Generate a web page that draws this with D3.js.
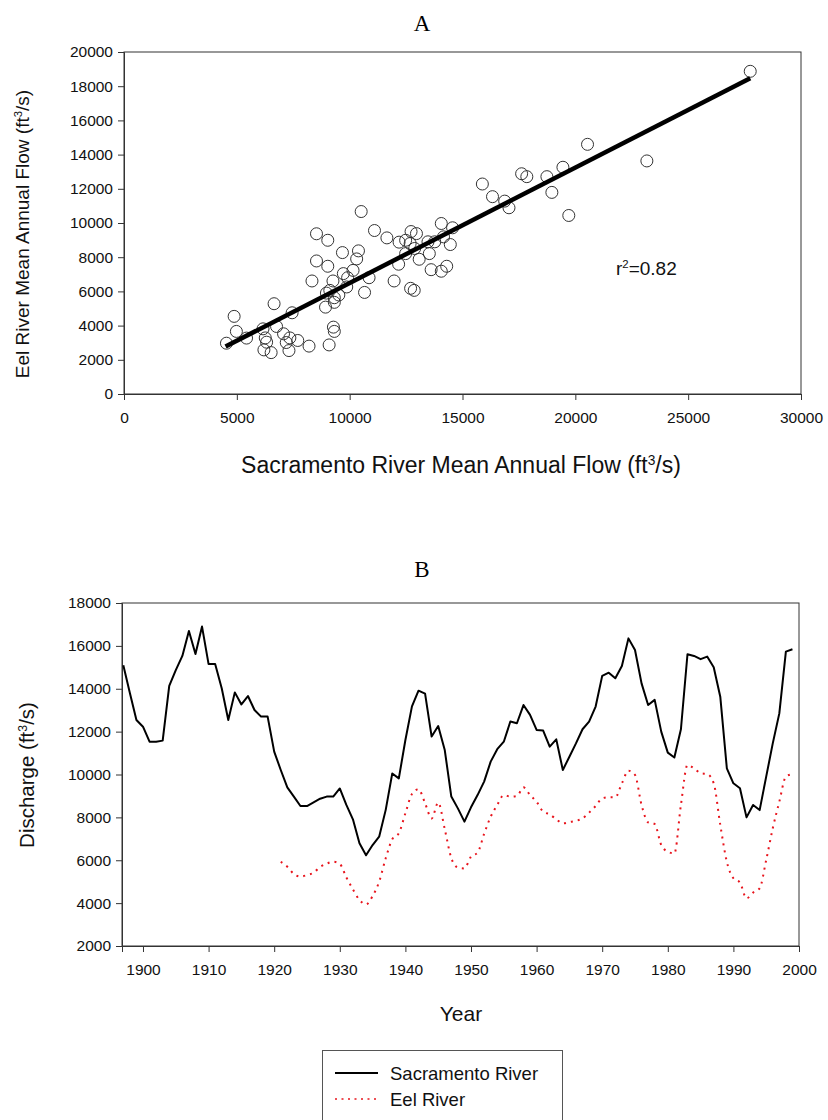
<!DOCTYPE html>
<html><head><meta charset="utf-8">
<script src="https://cdn.jsdelivr.net/npm/d3@7"></script>
<style>body{margin:0;background:#fff}svg{display:block}</style>
</head><body>
<svg id="c" width="828" height="1120"></svg>
<script>
// ---- Panel A data: annual mean flows (ft3/s)
const sacFlow = [27750,20540,23170,19450,17620,17850,18740,15880,16330,16870,17060,18960,19710,10510,11100,11650,8530,9030,14060,14560,14460,12190,12480,12720,12960,12680,12480,12880,13470,13770,14160,13530,13080,12170,13610,14060,14300,9680,10390,10310,8530,9030,10150,9720,9910,10860,8330,9260,9870,10660,11970,12700,12860,8970,9120,9520,9320,8930,9320,6650,7450,4880,4540,4980,5430,6160,6760,6260,6320,6200,6520,7070,7350,7190,7700,7310,8200,9090,9280,9320];
const eelFlow = [18870,14600,13630,13260,12880,12710,12710,12280,11540,11280,10890,11790,10440,10670,9560,9130,9370,8990,9970,9720,8740,8880,8990,9500,9380,8800,8210,8510,8900,8900,9190,8210,7880,7590,7270,7180,7470,8270,8370,7900,7780,7470,7230,7040,6800,6800,6610,6610,6260,5940,6610,6180,6060,5900,6060,5790,5630,5080,5360,5280,4750,4540,2970,3660,3270,3810,3950,3280,3030,2580,2420,3520,3280,3010,3130,2540,2800,2870,3910,3660];
const fitX = [4500, 27750];
const fitY = [2780, 18470];
const rSquared = "0.82";
const xTicksA = [0,5000,10000,15000,20000,25000,30000];
const yTicksA = [0,2000,4000,6000,8000,10000,12000,14000,16000,18000,20000];

// ---- Panel B data: discharge time series (ft3/s)
const sacStartYear = 1897;
const sacSeries = [15100,13800,12540,12230,11530,11530,11580,14130,14870,15530,16690,15620,16900,15150,15150,14020,12540,13830,13270,13660,13010,12700,12700,11070,10210,9400,8970,8530,8530,8700,8870,8970,8970,9350,8580,7910,6790,6230,6710,7100,8350,10050,9820,11610,13180,13910,13770,11770,12260,11140,8970,8420,7800,8470,9040,9670,10600,11180,11530,12470,12390,13240,12780,12080,12050,11300,11640,10210,10830,11450,12110,12470,13170,14600,14750,14490,15060,16350,15810,14250,13240,13480,12000,11020,10790,12110,15610,15530,15380,15500,15000,13630,10290,9590,9360,8000,8580,8340,9900,11450,12850,15730,15840];
const eelStartYear = 1921;
const eelSeries = [5930,5700,5360,5240,5310,5420,5690,5840,5930,5830,5200,4640,4150,3940,4330,5000,6090,6980,7260,8190,9090,9310,8660,7950,8690,7450,6100,5660,5620,6170,6350,7230,8030,8580,9040,8970,9000,9400,9040,8730,8270,8140,7910,7720,7780,7840,7950,8220,8530,8890,8940,8940,9590,10180,9980,8580,7770,7690,6710,6400,6320,8580,10440,10290,10060,10020,9590,7650,5930,5160,4960,4220,4490,4690,6010,7490,8730,9900,10020];
const xTicksB = [1900,1910,1920,1930,1940,1950,1960,1970,1980,1990,2000];
const yTicksB = [2000,4000,6000,8000,10000,12000,14000,16000,18000];
const seriesNames = ["Sacramento River","Eel River"];

const svg = d3.select("#c");
svg.append("rect").attr("width",828).attr("height",1120).attr("fill","#fff");
const SANS = "'Liberation Sans', Arial, sans-serif";
const SERIF = "'Liberation Serif', 'Times New Roman', serif";
const axisColor = "#333";
const TICK_FS = 15.5, TITLE_FS = 20.5;

function styleAxis(g){
  g.selectAll("path,line").attr("stroke",axisColor).attr("stroke-width",1);
  g.selectAll("text").attr("font-family",SANS).attr("font-size",TICK_FS).attr("fill","#111");
}
function labelWithSup(sel, before, sup, after){
  sel.append("tspan").text(before);
  sel.append("tspan").text(sup).attr("font-size","0.6em").attr("dy","-0.6em");
  sel.append("tspan").text(after).attr("dy","0.36em");
}

// ================= Panel A =================
const xA = d3.scaleLinear().domain([0,30000]).range([124,801]);
const yA = d3.scaleLinear().domain([0,20000]).range([394,52]);
const gA = svg.append("g");
gA.append("rect").attr("x",xA(0)).attr("y",yA(20000)).attr("width",xA(30000)-xA(0)).attr("height",yA(0)-yA(20000))
  .attr("fill","none").attr("stroke",axisColor);
gA.append("g").attr("transform",`translate(0,${yA(0)})`)
  .call(d3.axisBottom(xA).tickValues(xTicksA).tickFormat(d3.format("d")).tickSize(6).tickPadding(12)).call(styleAxis);
gA.append("g").attr("transform",`translate(${xA(0)},0)`)
  .call(d3.axisLeft(yA).tickValues(yTicksA).tickFormat(d3.format("d")).tickSize(6).tickPadding(5)).call(styleAxis);

const pts = sacFlow.map((x,i)=>({x, y:eelFlow[i]}));
gA.append("g").selectAll("circle").data(pts).join("circle")
  .attr("cx",d=>xA(d.x)).attr("cy",d=>yA(d.y)).attr("r",6)
  .attr("fill","none").attr("stroke","#333").attr("stroke-width",1);
gA.append("path").datum(fitX.map((x,i)=>[x,fitY[i]]))
  .attr("d",d3.line().x(d=>xA(d[0])).y(d=>yA(d[1])))
  .attr("stroke","#000").attr("stroke-width",4.5).attr("fill","none");

const rt = gA.append("text").attr("x",616).attr("y",275).attr("font-family",SANS).attr("font-size",19).attr("fill","#111");
labelWithSup(rt,"r","2","=" + rSquared);

svg.append("text").attr("x",422).attr("y",31).attr("text-anchor","middle").attr("font-family",SERIF).attr("font-size",23).text("A");
const xlA = svg.append("text").attr("x",461).attr("y",473).attr("text-anchor","middle").attr("font-family",SANS).attr("font-size",23).attr("fill","#111");
labelWithSup(xlA,"Sacramento River Mean Annual Flow (ft","3","/s)");
const ylA = svg.append("text").attr("transform","translate(29,234) rotate(-90)").attr("text-anchor","middle").attr("font-family",SANS).attr("font-size",19).attr("fill","#111");
labelWithSup(ylA,"Eel River Mean Annual Flow (ft","3","/s)");

// ================= Panel B =================
const xB = d3.scaleLinear().domain([1896.8,2000]).range([122,799]);
const yB = d3.scaleLinear().domain([2000,18000]).range([946,603]);
const gB = svg.append("g");
gB.append("rect").attr("x",xB.range()[0]).attr("y",yB(18000)).attr("width",xB.range()[1]-xB.range()[0]).attr("height",yB(2000)-yB(18000))
  .attr("fill","none").attr("stroke",axisColor);
gB.append("g").attr("transform",`translate(0,${yB(2000)})`)
  .call(d3.axisBottom(xB).tickValues(xTicksB).tickFormat(d3.format("d")).tickSize(6).tickPadding(12)).call(styleAxis);
gB.append("g").attr("transform",`translate(${xB.range()[0]},0)`)
  .call(d3.axisLeft(yB).tickValues(yTicksB).tickFormat(d3.format("d")).tickSize(6).tickPadding(5)).call(styleAxis);

const sacData = sacSeries.map((v,i)=>({yr:sacStartYear+i, v}));
const eelData = eelSeries.map((v,i)=>({yr:eelStartYear+i, v}));
const lineB = d3.line().x(d=>xB(d.yr)).y(d=>yB(d.v));
gB.append("path").datum(sacData).attr("d",lineB).attr("fill","none").attr("stroke","#000").attr("stroke-width",2).attr("stroke-linejoin","round");
gB.append("path").datum(eelData).attr("d",lineB.curve(d3.curveMonotoneX)).attr("fill","none").attr("stroke","#e8141c").attr("stroke-width",2).attr("stroke-dasharray","2,5");

svg.append("text").attr("x",422).attr("y",577).attr("text-anchor","middle").attr("font-family",SERIF).attr("font-size",23).text("B");
svg.append("text").attr("x",461).attr("y",1021).attr("text-anchor","middle").attr("font-family",SANS).attr("font-size",21).attr("fill","#111").text("Year");
const ylB = svg.append("text").attr("transform","translate(34,775) rotate(-90)").attr("text-anchor","middle").attr("font-family",SANS).attr("font-size",TITLE_FS).attr("fill","#111");
labelWithSup(ylB,"Discharge (ft","3","/s)");

// ================= Legend =================
const lg = svg.append("g");
lg.append("rect").attr("x",322.5).attr("y",1050.5).attr("width",240).attr("height",90).attr("fill","#fff").attr("stroke","#555");
const lgItems = seriesNames.map((n,i)=>({n, dash:i?"2,4.5":null, color:i?"#e8141c":"#000", w:i?1.5:2}));
const li = lg.selectAll("g.item").data(lgItems).join("g").attr("transform",(d,i)=>`translate(0,${1073+i*26})`);
li.append("line").attr("x1",335).attr("x2",378).attr("stroke",d=>d.color).attr("stroke-width",d=>d.w).attr("stroke-dasharray",d=>d.dash);
li.append("text").attr("x",390).attr("y",7).attr("font-family",SANS).attr("font-size",18.5).attr("fill","#111").text(d=>d.n);
</script>
</body></html>
